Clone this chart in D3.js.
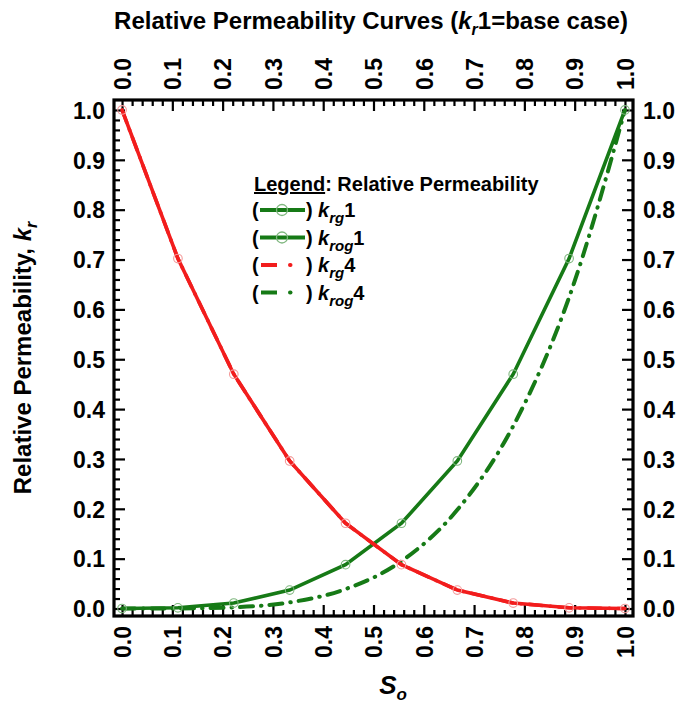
<!DOCTYPE html>
<html>
<head>
<meta charset="utf-8">
<script src="https://cdn.jsdelivr.net/npm/d3@7"></script>
<style>
  html, body { margin: 0; padding: 0; background: #fff; }
  svg { display: block; font-family: "Liberation Sans", Arial, sans-serif; }
</style>
</head>
<body>
<svg id="chart" width="680" height="704"></svg>
<script>
// Oil saturation at the marker positions
const So = [0, 0.1111, 0.2222, 0.3333, 0.4444, 0.5556, 0.6667, 0.7778, 0.8889, 1.0];
// Base case relative permeabilities
const krg1 = [1.0, 0.702, 0.470, 0.296, 0.171, 0.088, 0.037, 0.011, 0.0014, 0.0];
const krog1 = [0.0, 0.0014, 0.011, 0.037, 0.088, 0.171, 0.296, 0.470, 0.702, 1.0];
// Case 4 relative permeabilities
const krg4 = [1.0, 0.702, 0.470, 0.296, 0.171, 0.088, 0.037, 0.011, 0.0014, 0.0];
const krog4 = [0.0, 0.0002, 0.0024, 0.0123, 0.039, 0.095, 0.198, 0.366, 0.624, 1.0];
// Axis ticks
const majorTicks = [0, 0.1, 0.2, 0.3, 0.4, 0.5, 0.6, 0.7, 0.8, 0.9, 1.0];
const minorTicks = d3.range(0, 51).map(i => i / 50).filter(v => Math.round(v * 50) % 5 !== 0);

const GREEN = "#167a16";
const RED = "#f21d1d";

const svg = d3.select("#chart");
const frame = { left: 114, right: 633, top: 100, bottom: 616 };

const x = d3.scaleLinear().domain([-0.016, 1.016]).range([frame.left, frame.right]);
const y = d3.scaleLinear().domain([-0.015, 1.02]).range([frame.bottom, frame.top]);

const fmt = d3.format(".1f");

// Axes: major ticks with labels, minor ticks without, all pointing inward
function addAxis(axisFn, scale, transform) {
  const maj = svg.append("g").attr("transform", transform)
    .call(axisFn(scale).tickValues(majorTicks).tickSize(-11).tickPadding(0).tickFormat(fmt));
  const mnr = svg.append("g").attr("transform", transform)
    .call(axisFn(scale).tickValues(minorTicks).tickSize(-6).tickFormat(""));
  [maj, mnr].forEach(g => {
    g.select(".domain").remove();
    g.selectAll(".tick line").attr("stroke", "#000").attr("stroke-width", 2.2);
  });
  maj.selectAll(".tick text").attr("fill", "#000")
    .style("font-size", "23px").style("font-weight", "bold");
  return maj;
}

const axLeft = addAxis(d3.axisLeft, y, `translate(${frame.left},0)`);
axLeft.selectAll(".tick text").attr("x", -9).attr("dy", "0.36em");

const axRight = addAxis(d3.axisRight, y, `translate(${frame.right},0)`);
axRight.selectAll(".tick text").attr("x", 10).attr("dy", "0.36em");

const axTop = addAxis(d3.axisTop, x, `translate(0,${frame.top})`);
axTop.selectAll(".tick text")
  .attr("transform", "rotate(-90)")
  .attr("x", 10).attr("y", 0).attr("dy", "0.36em")
  .attr("text-anchor", "start");

const axBottom = addAxis(d3.axisBottom, x, `translate(0,${frame.bottom})`);
axBottom.selectAll(".tick text")
  .attr("transform", "rotate(-90)")
  .attr("x", -10).attr("y", 0).attr("dy", "0.36em")
  .attr("text-anchor", "end");

// Plot frame
svg.append("rect")
  .attr("x", frame.left).attr("y", frame.top)
  .attr("width", frame.right - frame.left).attr("height", frame.bottom - frame.top)
  .attr("fill", "none").attr("stroke", "#000").attr("stroke-width", 3.2);

// Curves
const plot = svg.append("g");
const lineLin = d3.line().x((d, i) => x(So[i])).y(d => y(d));
const lineSmooth = d3.line().x((d, i) => x(So[i])).y(d => y(d)).curve(d3.curveMonotoneX);

const DASHDOT = "13,8,0.5,8";

plot.append("path").datum(krog4).attr("d", lineSmooth)
  .attr("fill", "none").attr("stroke", GREEN).attr("stroke-width", 4)
  .attr("stroke-dasharray", DASHDOT).attr("stroke-linecap", "round");

plot.append("path").datum(krog1).attr("d", lineLin)
  .attr("fill", "none").attr("stroke", GREEN).attr("stroke-width", 3.6);

plot.append("path").datum(krg1).attr("d", lineLin)
  .attr("fill", "none").attr("stroke", RED).attr("stroke-width", 3.6);

plot.append("path").datum(krg4).attr("d", lineLin)
  .attr("fill", "none").attr("stroke", RED).attr("stroke-width", 3.6)
  .attr("stroke-dasharray", DASHDOT).attr("stroke-linecap", "round");

// Circle markers
plot.selectAll("circle.g").data(krog1).join("circle")
  .attr("cx", (d, i) => x(So[i])).attr("cy", d => y(d)).attr("r", 4.3)
  .attr("fill", "none").attr("stroke", "#7fb77f").attr("stroke-width", 1.1);
plot.selectAll("circle.r").data(krg1).join("circle")
  .attr("cx", (d, i) => x(So[i])).attr("cy", d => y(d)).attr("r", 4.3)
  .attr("fill", "none").attr("stroke", "#f39a9a").attr("stroke-width", 1.1);

// Title
const title = svg.append("text")
  .attr("x", 371).attr("y", 29).attr("text-anchor", "middle")
  .style("font-size", "24px").style("font-weight", "bold");
title.append("tspan").text("Relative Permeability Curves (");
title.append("tspan").style("font-style", "italic").text("k");
title.append("tspan").style("font-style", "italic").style("font-size", "16px").attr("dy", 6).text("r");
title.append("tspan").attr("dy", -6).text("1=base case)");

// Y axis title
const yTitle = svg.append("text")
  .attr("transform", `translate(31,${(frame.top + frame.bottom) / 2}) rotate(-90)`)
  .attr("text-anchor", "middle")
  .style("font-size", "24px").style("font-weight", "bold");
yTitle.append("tspan").text("Relative Permeability, ");
yTitle.append("tspan").style("font-style", "italic").text("k");
yTitle.append("tspan").style("font-style", "italic").style("font-size", "16px").attr("dy", 6).text("r");

// X axis title
const xTitle = svg.append("text")
  .attr("x", 393).attr("y", 694).attr("text-anchor", "middle")
  .style("font-size", "26px").style("font-weight", "bold").style("font-style", "italic");
xTitle.append("tspan").text("S");
xTitle.append("tspan").style("font-size", "17px").attr("dy", 6).text("o");

// Legend
const legend = svg.append("g").style("font-size", "20px").style("font-weight", "bold");
const lh = legend.append("text").attr("x", 254).attr("y", 191);
lh.append("tspan").style("text-decoration", "underline").text("Legend");
lh.append("tspan").text(": Relative Permeability");

const legendItems = [
  { sub: "rg", num: "1", color: GREEN, style: "solid" },
  { sub: "rog", num: "1", color: GREEN, style: "solid" },
  { sub: "rg", num: "4", color: RED, style: "dashdot" },
  { sub: "rog", num: "4", color: GREEN, style: "dashdot" }
];
legendItems.forEach((it, i) => {
  const by = 217 + i * 27.5;
  const cy = by - 7;
  legend.append("text").attr("x", 252).attr("y", by).text("(");
  legend.append("text").attr("x", 306).attr("y", by).text(")");
  if (it.style === "solid") {
    legend.append("line").attr("x1", 260).attr("x2", 305).attr("y1", cy).attr("y2", cy)
      .attr("stroke", it.color).attr("stroke-width", 4);
    legend.append("circle").attr("cx", 282).attr("cy", cy).attr("r", 5.5)
      .attr("fill", "none").attr("stroke", "#7fb77f").attr("stroke-width", 1.3);
  } else {
    legend.append("line").attr("x1", 261).attr("x2", 277).attr("y1", cy).attr("y2", cy)
      .attr("stroke", it.color).attr("stroke-width", 4);
    legend.append("line").attr("x1", 290).attr("x2", 290.5).attr("y1", cy).attr("y2", cy)
      .attr("stroke", it.color).attr("stroke-width", 4).attr("stroke-linecap", "round");
  }
  const t = legend.append("text").attr("x", 318).attr("y", by);
  t.append("tspan").style("font-style", "italic").text("k");
  t.append("tspan").style("font-style", "italic").style("font-size", "15px").attr("dy", 6).text(it.sub);
  t.append("tspan").attr("dy", -6).text(it.num);
});
</script>
</body>
</html>
